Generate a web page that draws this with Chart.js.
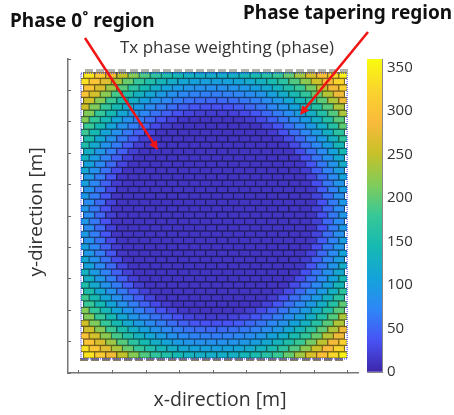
<!DOCTYPE html>
<html>
<head>
<meta charset="utf-8">
<script src="https://cdn.jsdelivr.net/npm/chart.js@4/dist/chart.umd.min.js"></script>
<style>
  html, body { margin: 0; padding: 0; background: #fff; }
  #wrap { position: relative; width: 454px; height: 415px; overflow: hidden; }
  canvas { position: absolute; top: 0; filter: blur(0.4px); }
</style>
</head>
<body>
<div id="wrap">
  <canvas id="phaseChart" width="454" height="415" style="left:0"></canvas>
  <canvas id="colorBar" width="94" height="415" style="left:360px"></canvas>
</div>
<script>
// phase per element, top row first, 24 elements a row, rows are staggered
const phaseRows = [
  [340,311,279,248,218,192,171,156,142,132,126,125,125,129,137,148,162,180,203,232,261,295,327,350],
  [336,304,269,237,204,178,156,138,124,113,107,104,102,105,110,119,131,147,167,192,221,254,289,323],
  [302,264,230,195,167,144,125,109,97,89,85,83,84,87,93,102,115,132,155,180,209,246,283,319],
  [299,259,221,187,157,131,113,96,84,75,69,67,66,68,73,80,89,105,122,146,173,203,242,281],
  [258,218,182,151,125,104,86,74,64,58,53,51,52,55,61,68,79,93,113,137,165,198,238,278],
  [257,214,177,144,118,95,78,65,54,46,39,35,34,37,42,50,60,72,86,107,131,161,196,239],
  [216,177,142,113,90,72,58,46,34,26,21,19,20,23,29,39,51,64,80,100,126,158,194,238],
  [217,175,140,110,86,67,52,36,24,15,12,12,12,12,13,19,30,45,60,76,97,126,158,196],
  [180,142,110,85,65,47,30,17,12,12,12,12,12,12,12,12,23,38,56,73,95,125,160,199],
  [183,144,110,84,62,44,25,12,12,12,12,12,12,12,12,12,12,18,34,54,73,96,128,165],
  [151,114,85,62,42,22,12,12,12,12,12,12,12,12,12,12,12,14,31,52,72,97,130,169],
  [156,118,87,64,42,20,12,12,12,12,12,12,12,12,12,12,12,12,13,31,53,75,102,137],
  [126,92,66,44,21,12,12,12,12,12,12,12,12,12,12,12,12,12,12,31,55,78,107,143],
  [132,97,69,46,22,12,12,12,12,12,12,12,12,12,12,12,12,12,12,13,34,60,84,115],
  [107,76,52,26,12,12,12,12,12,12,12,12,12,12,12,12,12,12,12,15,38,62,89,124],
  [115,83,57,30,12,12,12,12,12,12,12,12,12,12,12,12,12,12,12,12,19,45,69,99],
  [93,65,39,14,12,12,12,12,12,12,12,12,12,12,12,12,12,12,12,12,24,51,76,109],
  [104,72,46,19,12,12,12,12,12,12,12,12,12,12,12,12,12,12,12,12,12,33,61,87],
  [84,57,29,12,12,12,12,12,12,12,12,12,12,12,12,12,12,12,12,12,15,42,68,99],
  [95,65,39,13,12,12,12,12,12,12,12,12,12,12,12,12,12,12,12,12,12,25,54,81],
  [78,52,23,12,12,12,12,12,12,12,12,12,12,12,12,12,12,12,12,12,12,36,64,93],
  [92,62,35,12,12,12,12,12,12,12,12,12,12,12,12,12,12,12,12,12,12,22,50,78],
  [76,50,21,12,12,12,12,12,12,12,12,12,12,12,12,12,12,12,12,12,12,34,62,92],
  [92,62,35,12,12,12,12,12,12,12,12,12,12,12,12,12,12,12,12,12,12,22,50,78],
  [78,52,23,12,12,12,12,12,12,12,12,12,12,12,12,12,12,12,12,12,12,36,64,93],
  [95,65,39,13,12,12,12,12,12,12,12,12,12,12,12,12,12,12,12,12,12,25,54,81],
  [84,57,29,12,12,12,12,12,12,12,12,12,12,12,12,12,12,12,12,12,15,42,68,99],
  [104,72,46,19,12,12,12,12,12,12,12,12,12,12,12,12,12,12,12,12,12,33,61,87],
  [93,65,39,14,12,12,12,12,12,12,12,12,12,12,12,12,12,12,12,12,24,51,76,109],
  [115,83,57,30,12,12,12,12,12,12,12,12,12,12,12,12,12,12,12,12,19,45,69,99],
  [107,76,52,26,12,12,12,12,12,12,12,12,12,12,12,12,12,12,12,15,38,62,89,124],
  [132,97,69,46,22,12,12,12,12,12,12,12,12,12,12,12,12,12,12,13,34,60,84,115],
  [126,92,66,44,21,12,12,12,12,12,12,12,12,12,12,12,12,12,12,31,55,78,107,143],
  [156,118,87,64,42,20,12,12,12,12,12,12,12,12,12,12,12,12,13,31,53,75,102,137],
  [151,114,85,62,42,22,12,12,12,12,12,12,12,12,12,12,12,14,31,52,72,97,130,169],
  [183,144,110,84,62,44,25,12,12,12,12,12,12,12,12,12,12,18,34,54,73,96,128,165],
  [180,142,110,85,65,47,30,17,12,12,12,12,12,12,12,12,23,38,56,73,95,125,160,199],
  [217,175,140,110,86,67,52,36,24,15,12,12,12,12,13,19,30,45,60,76,97,126,158,196],
  [216,177,142,113,90,72,58,46,34,26,21,19,20,23,29,39,51,64,80,100,126,158,194,238],
  [257,214,177,144,118,95,78,65,54,46,39,35,34,37,42,50,60,72,86,107,131,161,196,239],
  [258,218,182,151,125,104,86,74,64,58,53,51,52,55,61,68,79,93,113,137,165,198,238,278],
  [299,259,221,187,157,131,113,96,84,75,69,67,66,68,73,80,89,105,122,146,173,203,242,281],
  [302,264,230,195,167,144,125,109,97,89,85,83,84,87,93,102,115,132,155,180,209,246,283,319],
  [336,304,269,237,204,178,156,138,124,113,107,104,102,105,110,119,131,147,167,192,221,254,289,323],
  [340,311,279,248,218,192,171,156,142,132,126,125,125,129,137,148,162,180,203,232,261,295,327,350]
]

const xTicks = [-4, -3, -2, -1, 0, 1, 2, 3, 4]
const yTicks = [-5, -4, -3, -2, -1, 0, 1, 2, 3, 4, 5]
const colorTicks = [0, 50, 100, 150, 200, 250, 300, 350]
const colorRange = [0, 360]

// parula stops, every 10%
const parulaStops = [
  [62, 38, 168], [72, 82, 244], [46, 135, 247], [20, 163, 218], [22, 185, 178],
  [55, 200, 151], [129, 204, 89], [200, 193, 40], [250, 186, 60], [250, 212, 45], [249, 251, 14]
]

const colPitch = 0.3304
const rowPitch = 0.2025
const stagger = 0.0826

function parula(v) {
  const t = Math.min(Math.max(v / colorRange[1], 0), 1) * (parulaStops.length - 1)
  const i = Math.min(Math.floor(t), parulaStops.length - 2)
  const f = t - i
  return parulaStops[i].map((c, n) => Math.round(c + (parulaStops[i + 1][n] - c) * f))
}

// one small canvas per colour, the point style of an element
const brickCache = {}
function brick(v) {
  if (brickCache[v]) return brickCache[v]
  const c = document.createElement('canvas')
  c.width = 12
  c.height = 7
  const g = c.getContext('2d')
  const rgb = parula(v)
  g.fillStyle = `rgb(${rgb.map(n => Math.round(n * 0.5)).join(',')})`
  g.fillRect(0, 0, 12, 7)
  g.fillStyle = `rgb(${rgb.join(',')})`
  g.fillRect(1, 1, 10, 5)
  brickCache[v] = c
  return c
}

function nub(color) {
  const c = document.createElement('canvas')
  c.width = 8
  c.height = 3
  const g = c.getContext('2d')
  g.fillStyle = color
  g.fillRect(0, 0, 8, 3)
  return c
}

const colX = (k, row) => (k - 11.5) * colPitch + (row % 2 === 0 ? stagger : -stagger) + 0.018
const rowY = row => (22 - row) * rowPitch + 0.03

const cells = []
const cellStyles = []
phaseRows.forEach((vals, row) => {
  vals.forEach((v, k) => {
    cells.push({ x: colX(k, row), y: rowY(row) })
    cellStyles.push(brick(v))
  })
})

const topNubs = phaseRows[0].map((v, k) => ({ x: colX(k, 0), y: rowY(-0.72) }))
const bottomNubs = phaseRows[44].map((v, k) => ({ x: colX(k, 1), y: rowY(44.7) }))

// dotted outline of the aperture
const outline = [
  { x: -3.94, y: 4.55 }, { x: 3.98, y: 4.55 }, { x: 3.98, y: -4.55 }, { x: -3.94, y: -4.55 }, { x: -3.94, y: 4.55 }
]

const arrows = [
  { from: [-3.821, 5.669], to: [-1.649, 2.102] },
  { from: [4.601, 5.860], to: [2.577, 3.217] }
]

const labels = [
  { text: 'Phase 0˚ region', x: 10, y: 22, font: 'bold 19px "Noto Sans"', align: 'left' },
  { text: 'Phase tapering region', x: 243, y: 14, font: 'bold 19px "Noto Sans"', align: 'left' },
  { text: 'x-direction [m]', x: 220, y: 400, font: '19.5px "Open Sans"', align: 'center', color: '#333' },
  { text: 'y-direction [m]', x: 37, y: 212, font: '19px "Open Sans"', align: 'center', color: '#333', rotate: -Math.PI / 2 }
]

const overlay = {
  id: 'overlay',
  afterDraw(chart) {
    const { ctx, scales } = chart
    ctx.save()
    ctx.strokeStyle = '#f01414'
    ctx.fillStyle = '#f01414'
    ctx.lineWidth = 2.5
    arrows.forEach(a => {
      const x0 = scales.x.getPixelForValue(a.from[0])
      const y0 = scales.y.getPixelForValue(a.from[1])
      const x1 = scales.x.getPixelForValue(a.to[0])
      const y1 = scales.y.getPixelForValue(a.to[1])
      const ang = Math.atan2(y1 - y0, x1 - x0)
      ctx.beginPath()
      ctx.moveTo(x0, y0)
      ctx.lineTo(x1 - 5 * Math.cos(ang), y1 - 5 * Math.sin(ang))
      ctx.stroke()
      ctx.beginPath()
      ctx.moveTo(x1, y1)
      ctx.lineTo(x1 - 10 * Math.cos(ang - 0.45), y1 - 10 * Math.sin(ang - 0.45))
      ctx.lineTo(x1 - 10 * Math.cos(ang + 0.45), y1 - 10 * Math.sin(ang + 0.45))
      ctx.closePath()
      ctx.fill()
    })
    labels.forEach(l => {
      ctx.save()
      ctx.translate(l.x, l.y)
      if (l.rotate) ctx.rotate(l.rotate)
      ctx.font = l.font
      ctx.textAlign = l.align
      ctx.textBaseline = 'middle'
      ctx.fillStyle = l.color || '#111'
      ctx.fillText(l.text, 0, 0)
      ctx.restore()
    })
    ctx.restore()
  }
}

const axisGrid = { drawOnChartArea: false, tickColor: '#666', tickLength: -3, tickWidth: 1 }
const axisBorder = { color: '#777', width: 1.5 }

new Chart(document.getElementById('phaseChart'), {
  type: 'scatter',
  data: {
    datasets: [
      { data: outline, showLine: true, pointRadius: 0, borderColor: 'rgba(50,50,255,0.9)', borderWidth: 1.2, borderDash: [1, 1], clip: false },
      { data: topNubs, pointRadius: 4, pointStyle: nub('#b4b4ac'), clip: false },
      { data: bottomNubs, pointRadius: 4, pointStyle: nub('rgba(95,85,50,0.75)'), clip: false },
      { data: cells, pointRadius: 5, pointStyle: cellStyles, clip: { left: -13, right: -11, top: -13, bottom: -15 } }
    ]
  },
  options: {
    responsive: false,
    animation: false,
    events: [],
    plugins: {
      legend: { display: false },
      tooltip: { enabled: false },
      title: {
        display: true,
        text: 'Tx phase weighting (phase)',
        color: '#333',
        font: { family: 'Open Sans', size: 17, weight: 'normal' },
        padding: { top: 38, bottom: 0.6 }
      }
    },
    scales: {
      x: {
        type: 'linear',
        min: -4.327,
        max: 4.304,
        afterBuildTicks: s => { s.ticks = xTicks.map(value => ({ value })) },
        afterFit: s => { s.height = 42 },
        ticks: { display: false },
        grid: axisGrid,
        border: axisBorder
      },
      y: {
        type: 'linear',
        min: -5,
        max: 5,
        afterBuildTicks: s => { s.ticks = yTicks.map(value => ({ value })) },
        afterFit: s => { s.width = 68 },
        ticks: { display: false },
        grid: axisGrid,
        border: axisBorder
      },
      // empty axis, only keeps room on the right for the colour bar
      spare: {
        type: 'linear',
        position: 'right',
        afterFit: s => { s.width = 96 },
        ticks: { display: false },
        grid: { display: false },
        border: { display: false }
      }
    }
  },
  plugins: [overlay]
})

new Chart(document.getElementById('colorBar'), {
  type: 'bar',
  data: {
    labels: [''],
    datasets: [{
      data: [colorRange],
      barPercentage: 1,
      categoryPercentage: 1,
      borderWidth: 0,
      backgroundColor(c) {
        const a = c.chart.chartArea
        if (!a) return '#000'
        const g = c.chart.ctx.createLinearGradient(0, a.bottom, 0, a.top)
        parulaStops.forEach((s, i) => g.addColorStop(i / (parulaStops.length - 1), `rgb(${s.join(',')})`))
        return g
      }
    }]
  },
  options: {
    responsive: false,
    animation: false,
    events: [],
    layout: { padding: { top: 59, bottom: 43, left: 7 } },
    plugins: { legend: { display: false }, tooltip: { enabled: false } },
    scales: {
      x: {
        display: true,
        ticks: { display: false },
        grid: { display: false },
        border: { color: '#888', width: 1 },
        afterFit: s => { s.height = 0 }
      },
      y: {
        position: 'right',
        min: colorRange[0],
        max: colorRange[1],
        afterBuildTicks: s => { s.ticks = colorTicks.map(value => ({ value })) },
        afterFit: s => { s.width = 72 },
        ticks: { color: '#333', font: { family: 'Open Sans', size: 15 }, padding: 8 },
        grid: axisGrid,
        border: { color: '#888', width: 1 }
      }
    }
  }
})
</script>
</body>
</html>
